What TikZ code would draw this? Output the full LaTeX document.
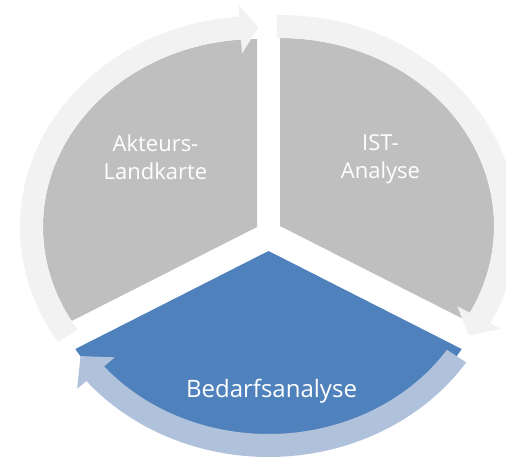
\documentclass[tikz,border=0pt]{standalone}
\usepackage{fontspec}
\setmainfont{Open Sans}
\usetikzlibrary{calc}
\definecolor{wedgegray}{HTML}{BFBFBF}
\definecolor{bandgray}{HTML}{F2F2F2}
\definecolor{wedgeblue}{HTML}{4F81BD}
\definecolor{bandblue}{HTML}{B0C1DB}
\newcommand\bandarrow[5]{%
  \fill[#5] ($(#1)+(#2:237pt and 211pt)$)
    arc[start angle=#2,end angle=#3,x radius=237,y radius=211]
    -- ($(#1)+(#3:249pt and 223pt)$)
    -- ($(#1)+(#4:225.5pt and 199.5pt)$)
    -- ($(#1)+(#3:200pt and 174pt)$)
    -- ($(#1)+(#3:214pt and 188pt)$)
    arc[start angle=#3,end angle=#2,x radius=214,y radius=188] -- cycle;}
\tikzset{
  lbl/.style={text=white, align=center, anchor=base, inner sep=0pt},
  smalllbl/.style={lbl, font=\fontsize{22}{27.5}\selectfont},
  biglbl/.style={lbl, font=\fontsize{24}{29}\selectfont}
}
\begin{document}
\begin{tikzpicture}[x=1pt,y=1pt]
\useasboundingbox (0,0) rectangle (506,459);
\clip (0,0) rectangle (506,459);
\fill[white] (0,0) rectangle (506,459);
\coordinate (L) at (257,232);
\coordinate (R) at (280,233);
\coordinate (B) at (268.5,208);
\coordinate (Bc) at (268.5,213);
% wedges
\fill[wedgegray] (L) -- ++(0,188) arc[start angle=90,end angle=210,x radius=214,y radius=188] -- cycle;
\fill[wedgegray] (R) -- ++(185.33,-94) arc[start angle=-30,end angle=90,x radius=214,y radius=188] -- cycle;
\fill[wedgeblue] (B) -- ++(-193.12,-98) arc[start angle=210,end angle=330,x radius=223,y radius=196] -- cycle;
% circular arrows
\bandarrow{L}{213}{94.3}{89.7}{bandgray}
\bandarrow{R}{90.8}{-27.5}{-33.2}{bandgray}
\bandarrow{Bc}{-33.5}{-140.2}{-146.5}{bandblue}
% labels
\node[smalllbl] (akt) at (155.5,280) {Akteurs-\\Landkarte};
\node[smalllbl] (ist) at (380.5,281) {IST-\\Analyse};
\node[biglbl] (bed) at (271.5,62) {Bedarfsanalyse};
\end{tikzpicture}
\end{document}
